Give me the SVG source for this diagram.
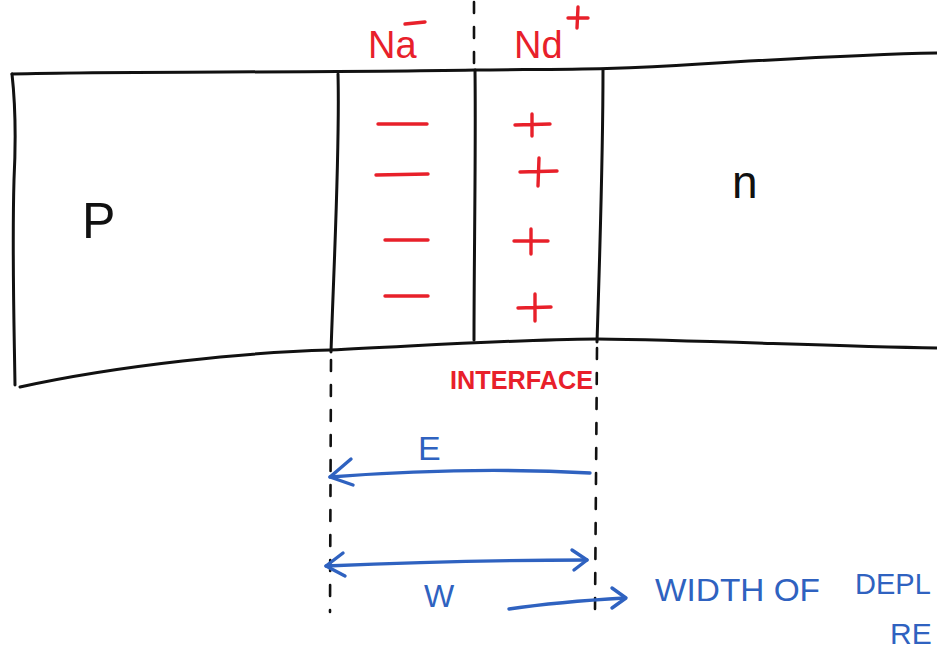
<svg xmlns="http://www.w3.org/2000/svg" width="937" height="655" viewBox="0 0 937 655">
  <style>
    .ink { fill: none; stroke: #111; stroke-width: 3; stroke-linecap: round; stroke-linejoin: round; }
    .dash { fill: none; stroke: #111; stroke-width: 2.6; stroke-dasharray: 11 14; stroke-linecap: round; }
    .red { fill: none; stroke: #e8202a; stroke-width: 3.4; stroke-linecap: round; }
    .blue { fill: none; stroke: #2f62c0; stroke-width: 3.4; stroke-linecap: round; stroke-linejoin: round; }
    .tk { font-family: "Liberation Sans", "DejaVu Sans", sans-serif; fill: #111; }
    .tr { font-family: "Liberation Sans", "DejaVu Sans", sans-serif; fill: #e8202a; }
    .tb { font-family: "Liberation Sans", "DejaVu Sans", sans-serif; fill: #2f62c0; }
  </style>
  <rect width="937" height="655" fill="#fff"/>

  <!-- semiconductor bar -->
  <g id="bar">
    <path class="ink" d="M12 74 C120 71 300 73 475 70 C560 69 610 70 700 64 C800 58 880 54 937 53"/>
    <path class="ink" d="M20 387 C120 365 250 352 330 350 C420 346 500 340 597 339 C700 340 820 346 937 348"/>
    <path class="ink" d="M12 74 C16 110 16 140 14 180 C12 250 14 320 15 385"/>
  </g>

  <!-- depletion region boundaries -->
  <g id="boundaries">
    <path class="ink" d="M338 74 C340 150 334 260 331 352"/>
    <path class="ink" d="M475 70 C476 150 474 260 474 340"/>
    <path class="ink" d="M603 70 C603 150 600 250 597 342"/>
    <path class="dash" d="M474 2 L474 68"/>
    <path class="dash" d="M331 360 L330 612"/>
    <path class="dash" d="M597 348 L595 610"/>
  </g>

  <!-- region labels -->
  <g id="p-region"><text class="tk" x="82" y="238" font-size="50">P</text></g>
  <g id="n-region"><text class="tk" x="732" y="198" font-size="46">n</text></g>

  <!-- acceptor ions -->
  <g id="acceptors">
    <text class="tr" x="368" y="58" font-size="38">Na</text>
    <path class="red" d="M405 24 L425 22"/>
    <path class="red" d="M378 124 L427 124"/>
    <path class="red" d="M376 175 L428 174"/>
    <path class="red" d="M385 240 L428 240"/>
    <path class="red" d="M385 296 L428 296"/>
  </g>

  <!-- donor ions -->
  <g id="donors">
    <text class="tr" x="514" y="58" font-size="38">Nd</text>
    <path class="red" d="M568 18 L588 18 M578 7 L577 28"/>
    <path class="red" d="M515 125 L550 124 M532 114 L532 136"/>
    <path class="red" d="M520 172 L557 171 M539 158 L538 186"/>
    <path class="red" d="M514 241 L548 241 M531 229 L531 254"/>
    <path class="red" d="M518 308 L551 307 M535 294 L535 321"/>
  </g>

  <g id="interface"><text class="tr" x="450" y="389" font-size="26" font-weight="bold" textLength="143" lengthAdjust="spacingAndGlyphs">INTERFACE</text></g>

  <!-- connectors -->
  <g id="connectors">
    <path class="blue" d="M590 473 C500 468 420 470 330 477"/>
    <path class="blue" d="M351 459 L330 477 L353 485"/>
    <path class="blue" d="M326 566 C420 562 500 560 587 560"/>
    <path class="blue" d="M343 553 L326 566 L345 576"/>
    <path class="blue" d="M572 550 L587 560 L574 570"/>
    <path class="blue" d="M509 609 C550 603 590 600 625 598"/>
    <path class="blue" d="M612 588 L626 598 L612 608"/>
  </g>

  <!-- field and width labels -->
  <g id="labels">
    <text class="tb" x="418" y="460" font-size="34">E</text>
    <text class="tb" x="424" y="607" font-size="32">W</text>
    <text class="tb" x="655" y="601" font-size="32" textLength="165" lengthAdjust="spacingAndGlyphs">WIDTH OF</text>
    <text class="tb" x="855" y="594" font-size="29">DEPL</text>
    <text class="tb" x="890" y="644" font-size="30">RE</text>
  </g>
</svg>
